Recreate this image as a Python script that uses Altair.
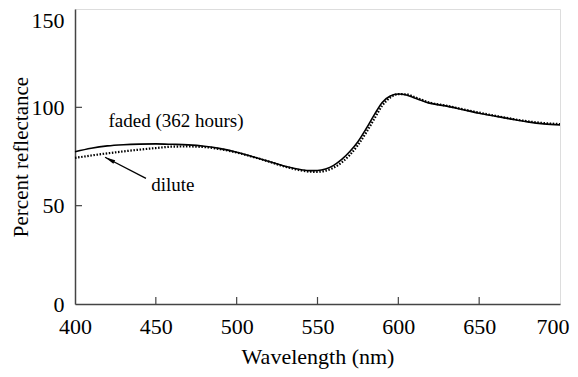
import altair as alt
import pandas as pd

wavelength = [400, 410, 420, 430, 440, 450, 460, 470, 480, 490, 500, 510, 520, 530, 540, 545,
              550, 555, 560, 565, 570, 575, 580, 585, 590, 595, 600, 605, 610, 620, 630, 640,
              650, 660, 670, 680, 690, 700]
faded = [77.4, 79.2, 80.4, 81.0, 81.3, 81.4, 81.2, 80.9, 80.2, 79.0, 77.2, 74.9, 72.5, 70.0,
         68.3, 67.8, 67.9, 68.7, 70.5, 73.5, 77.5, 82.5, 89.0, 96.0, 102.5, 105.8, 106.8,
         106.3, 104.8, 102.0, 100.6, 98.8, 97.0, 95.5, 94.0, 92.6, 91.6, 91.1]
dilute = [74.3, 75.5, 76.6, 77.6, 78.5, 79.3, 80.0, 80.1, 79.8, 78.7, 77.0, 74.8, 72.4, 69.8,
          67.9, 67.3, 67.2, 67.8, 69.3, 72.0, 75.8, 80.8, 87.0, 94.0, 100.8, 105.0, 106.7,
          106.6, 105.2, 102.3, 100.8, 99.0, 97.3, 95.7, 94.2, 92.9, 92.0, 91.5]

x_ticks = [400, 450, 500, 550, 600, 650, 700]
y_ticks = [0, 50, 100, 150]

labels = ["faded (362 hours)", "dilute"]
label_x = [462.5, 460.5]
label_y = [93.0, 60.5]

arrow_x = [443.9, 418.6]
arrow_y = [63.9, 74.6]
head_x = [421.4]
head_y = [73.4]

FONT = "Times New Roman, Liberation Serif, DejaVu Serif, serif"
AX = "#444444"

df = pd.DataFrame({"wl": wavelength, "faded": faded, "dilute": dilute})

xs = alt.Scale(domain=[400, 700], nice=False, zero=False)
ys = alt.Scale(domain=[0, 150], nice=False)

xaxis = alt.Axis(values=x_ticks, tickSize=0, grid=False, labelFont=FONT, labelFontSize=22,
                 labelColor="black", labelPadding=12, title="Wavelength (nm)", titleFont=FONT,
                 titleFontSize=22, titleFontWeight="normal", titleColor="black", titlePadding=9,
                 domainColor=AX, domainWidth=1.5, labelFlush=False,
                 labelAlign=alt.expr("datum.value == 700 ? 'right' : 'center'"),
                 labelOffset=alt.expr("datum.value == 700 ? 9 : 0"))
yaxis = alt.Axis(values=y_ticks, tickSize=0, grid=False, labelFont=FONT, labelFontSize=22,
                 labelColor="black", labelPadding=11, title="Percent reflectance", titleFont=FONT,
                 titleFontSize=21, titleFontWeight="normal", titleColor="black", titlePadding=0,
                 domainColor=AX, domainWidth=1.5, labelFlush=False,
                 labelBaseline=alt.expr("datum.value == 150 ? 'top' : 'middle'"),
                 labelOffset=alt.expr("datum.value == 150 ? 1 : 0"))

base = alt.Chart(df)
solid = base.mark_line(color="black", strokeWidth=1.6, interpolate="monotone").encode(
    x=alt.X("wl:Q", scale=xs, axis=xaxis),
    y=alt.Y("faded:Q", scale=ys, axis=yaxis),
)
dotted = base.mark_line(color="black", strokeWidth=2.2, strokeDash=[1.5, 1.6],
                        interpolate="monotone").encode(
    x=alt.X("wl:Q", scale=xs),
    y=alt.Y("dilute:Q", scale=ys),
)

ytk = alt.Chart(pd.DataFrame({"v": y_ticks[1:-1]})).mark_rule(color=AX, strokeWidth=1.2).encode(
    y=alt.Y("v:Q", scale=ys), x=alt.value(0), x2=alt.value(7))
xtk = alt.Chart(pd.DataFrame({"v": x_ticks[1:-1]})).mark_rule(color=AX, strokeWidth=1.2).encode(
    x=alt.X("v:Q", scale=xs), y=alt.value(295), y2=alt.value(288))

txt = alt.Chart(pd.DataFrame({"t": labels, "x": label_x, "y": label_y})).mark_text(
    font=FONT, fontSize=19, color="black", align="center", baseline="middle").encode(
    x=alt.X("x:Q", scale=xs), y=alt.Y("y:Q", scale=ys), text="t:N")

arrow = alt.Chart(pd.DataFrame({"x": arrow_x, "y": arrow_y})).mark_line(
    color="black", strokeWidth=1.3).encode(x=alt.X("x:Q", scale=xs), y=alt.Y("y:Q", scale=ys))
head = alt.Chart(pd.DataFrame({"x": head_x, "y": head_y})).mark_point(
    shape="M0,-1L0.38,1L-0.38,1Z", size=110, filled=True, color="black", opacity=1,
    angle=297).encode(x=alt.X("x:Q", scale=xs), y=alt.Y("y:Q", scale=ys))

chart = alt.layer(solid, dotted, ytk, xtk, txt, arrow, head).properties(
    width=485, height=295,
    autosize=alt.AutoSizeParams(type="none"),
    padding={"left": 67, "top": 1, "right": 10, "bottom": 65},
).configure_view(stroke=AX, strokeWidth=1.5).configure(background="white")

chart.save("out.html", embed_options={"renderer": "svg", "actions": False})
